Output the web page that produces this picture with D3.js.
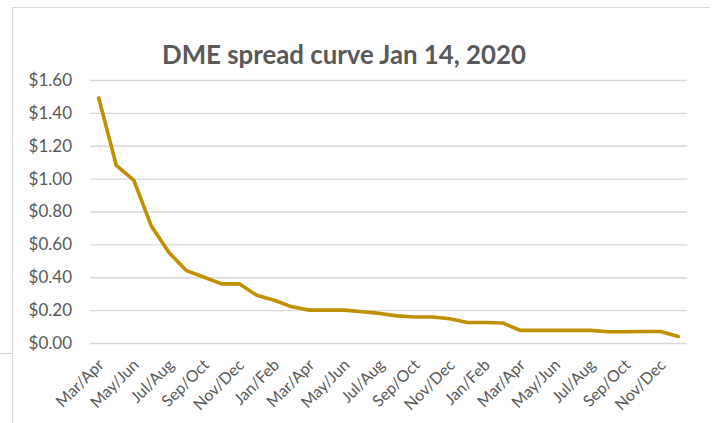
<!DOCTYPE html>
<html>
<head>
<meta charset="utf-8">
<script src="https://cdn.jsdelivr.net/npm/d3@7"></script>
<style>
    body { margin: 0; background: #fff; }
    svg { display: block; }
    text { font-family: Lato, "Open Sans", sans-serif; fill: #595959; }
</style>
</head>
<body>
<div id="chart"></div>
<script>
// Calendar spreads, one per month (every other one is labelled)
const spreads = [
    "Mar/Apr", "Apr/May", "May/Jun", "Jun/Jul", "Jul/Aug", "Aug/Sep", "Sep/Oct", "Oct/Nov",
    "Nov/Dec", "Dec/Jan", "Jan/Feb", "Feb/Mar", "Mar/Apr", "Apr/May", "May/Jun", "Jun/Jul",
    "Jul/Aug", "Aug/Sep", "Sep/Oct", "Oct/Nov", "Nov/Dec", "Dec/Jan", "Jan/Feb", "Feb/Mar",
    "Mar/Apr", "Apr/May", "May/Jun", "Jun/Jul", "Jul/Aug", "Aug/Sep", "Sep/Oct", "Oct/Nov",
    "Nov/Dec", "Dec/Jan"
];
const spreadValues = [
    1.49, 1.08, 0.99, 0.71, 0.55, 0.44, 0.40, 0.36,
    0.36, 0.29, 0.26, 0.22, 0.20, 0.20, 0.20, 0.19,
    0.18, 0.165, 0.158, 0.158, 0.148, 0.125, 0.125, 0.122,
    0.077, 0.077, 0.077, 0.077, 0.077, 0.068, 0.068, 0.07,
    0.07, 0.04
];
const yTicks = [0, 0.2, 0.4, 0.6, 0.8, 1.0, 1.2, 1.4, 1.6];
const chartTitle = "DME spread curve Jan 14, 2020";

const width = 714, height = 423;
const plot = {left: 90, right: 687, top: 80, bottom: 343};

const svg = d3.select("#chart").append("svg")
    .attr("width", width)
    .attr("height", height);

// spreadsheet bits around the chart
svg.append("line")
    .attr("x1", 0).attr("x2", 12)
    .attr("y1", 353.5).attr("y2", 353.5)
    .attr("stroke", "#d4d4d4");
svg.append("path")
    .attr("d", `M12.5,${height} V7.5 H710`)
    .attr("fill", "none")
    .attr("stroke", "#d9d9d9");

const x = d3.scaleBand()
    .domain(d3.range(spreads.length))
    .range([plot.left, plot.right])
    .padding(0);

const y = d3.scaleLinear()
    .domain([0, 1.6])
    .range([plot.bottom, plot.top]);

// gridlines + y labels
const yAxis = svg.append("g")
    .attr("transform", `translate(${plot.left}, 0)`)
    .call(d3.axisLeft(y)
        .tickValues(yTicks)
        .tickSize(-(plot.right - plot.left))
        .tickPadding(18)
        .tickFormat(d => "$" + d.toFixed(2)));
yAxis.select(".domain").remove();
yAxis.selectAll(".tick line").attr("stroke", "#d9d9d9").attr("stroke-width", 1.3);
yAxis.selectAll(".tick text")
    .style("font-size", "17px")
    .attr("fill", "#595959");

// x labels, every other category
const xAxis = svg.append("g")
    .attr("transform", `translate(0, ${plot.bottom})`)
    .call(d3.axisBottom(x)
        .tickValues(d3.range(0, spreads.length, 2))
        .tickSize(0)
        .tickFormat(i => spreads[i]));
xAxis.select(".domain").remove();
xAxis.selectAll(".tick text")
    .style("font-size", "16px")
    .attr("fill", "#595959")
    .attr("text-anchor", "end")
    .attr("dy", 0)
    .attr("y", 0)
    .attr("transform", "translate(6, 23) rotate(-45)");

// the curve
svg.append("path")
    .datum(spreadValues)
    .attr("fill", "none")
    .attr("stroke", "#bf9000")
    .attr("stroke-width", 3.6)
    .attr("stroke-linejoin", "round")
    .attr("stroke-linecap", "round")
    .attr("d", d3.line()
        .x((d, i) => x(i) + x.bandwidth() / 2)
        .y(d => y(d)));

svg.append("text")
    .attr("x", 344)
    .attr("y", 64)
    .attr("text-anchor", "middle")
    .style("font-size", "25.8px")
    .style("font-weight", "bold")
    .text(chartTitle);
</script>
</body>
</html>
